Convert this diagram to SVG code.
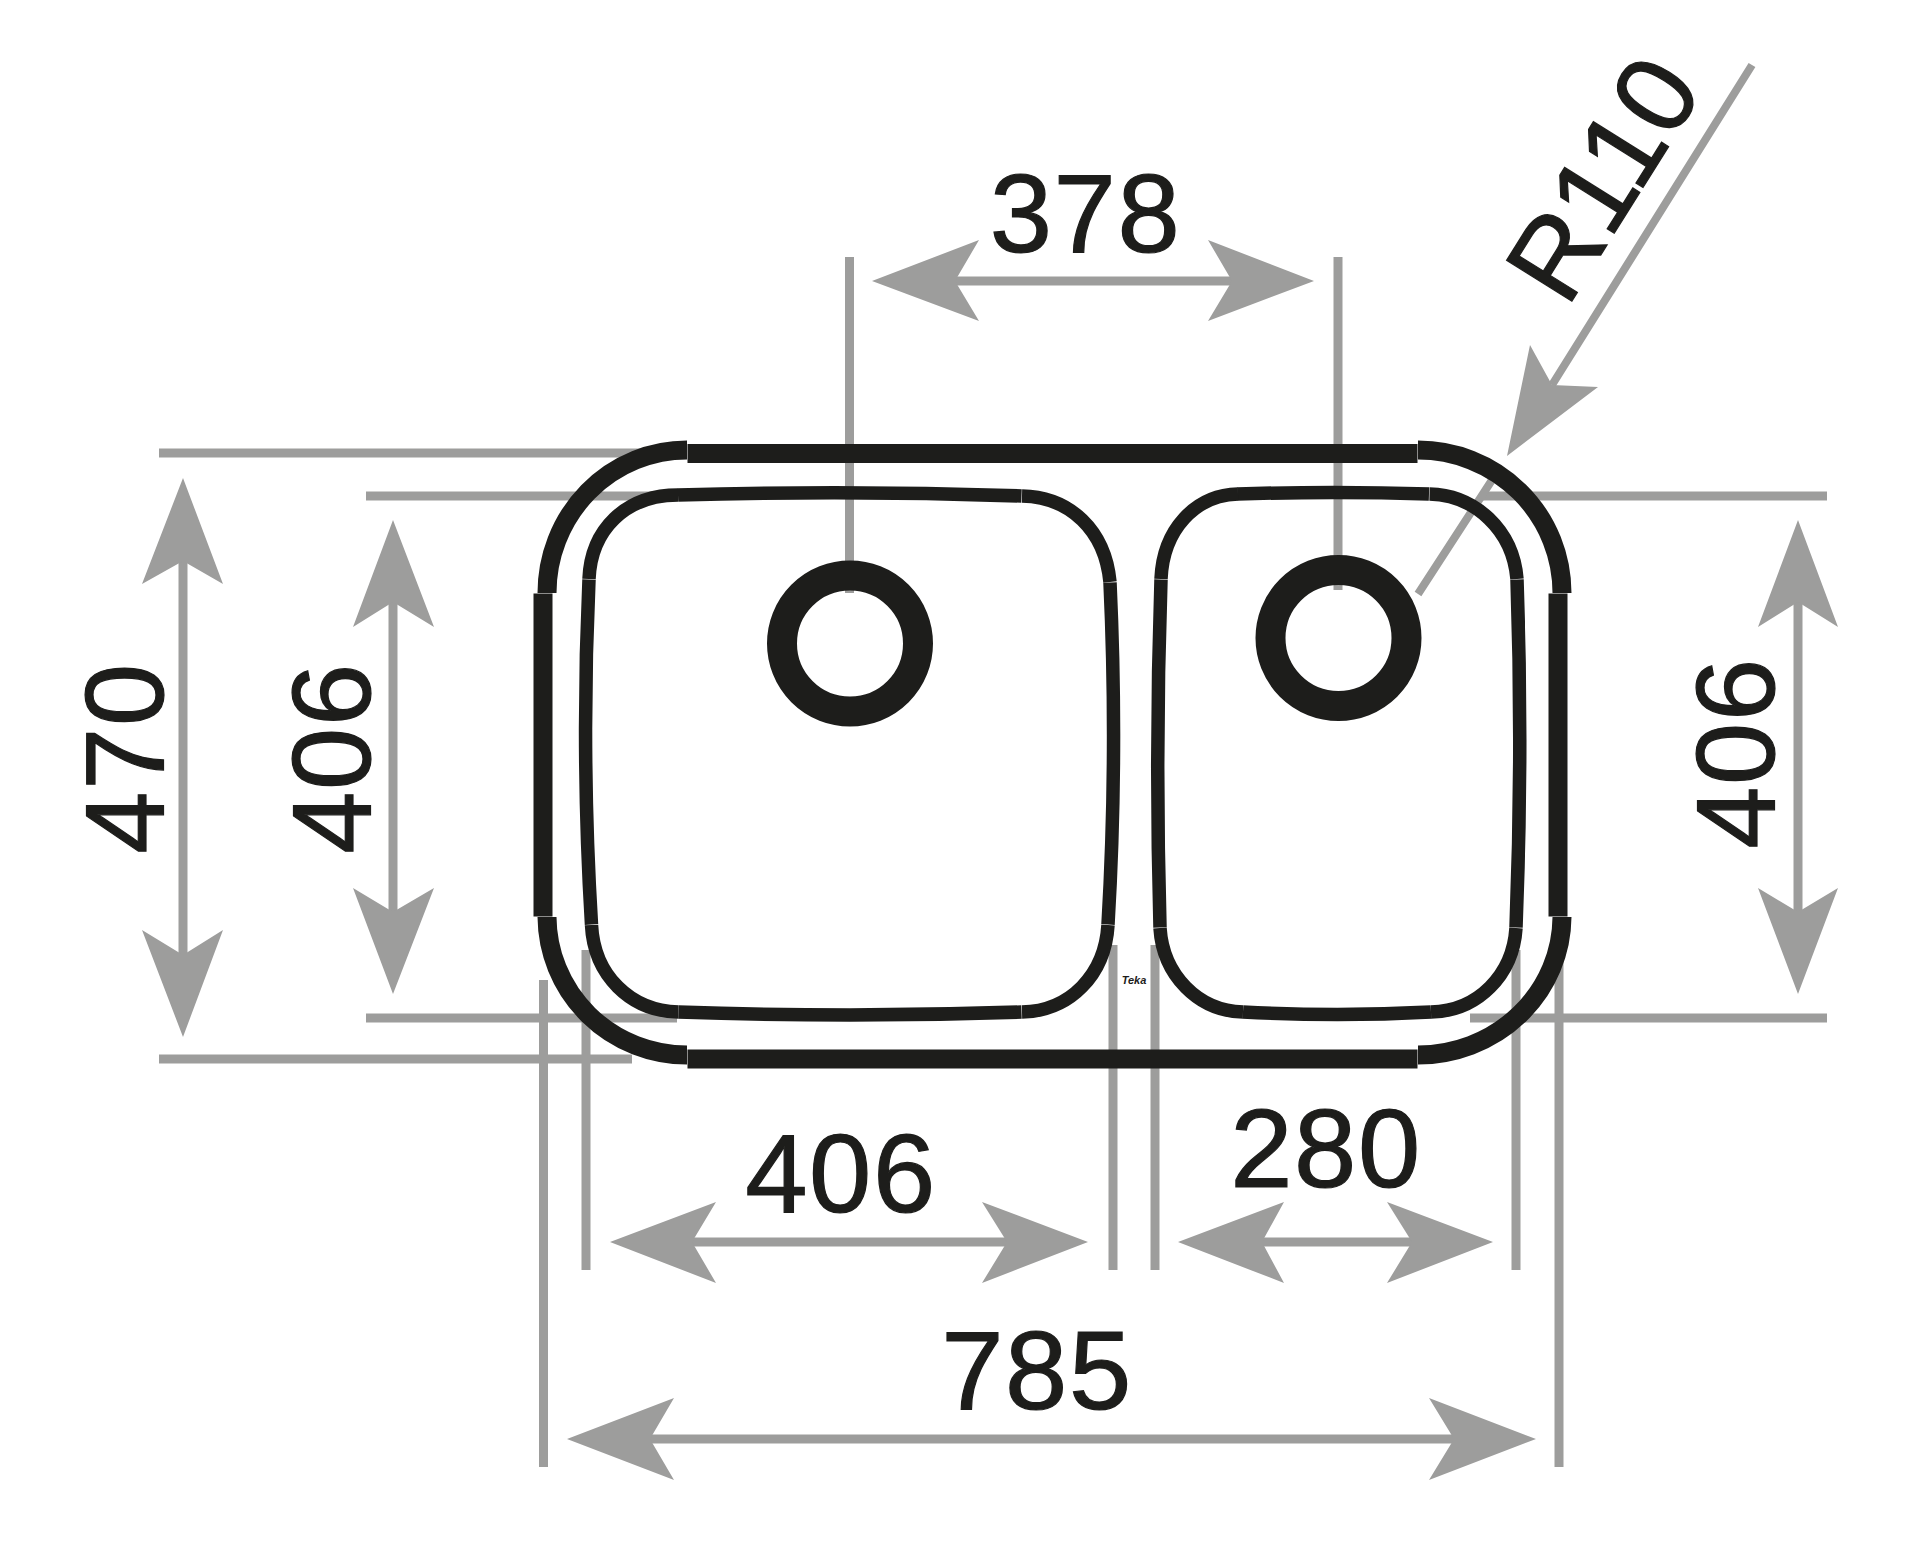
<svg xmlns="http://www.w3.org/2000/svg" width="1920" height="1552" viewBox="0 0 1920 1552">
<style>
.g{stroke:#9d9d9c;stroke-width:9;fill:none}
.t{stroke:#9d9d9c;stroke-width:8;fill:none}
.a{fill:#9d9d9c;stroke:none}
.o{stroke:#1d1d1b;stroke-width:19;fill:none}
.i{stroke:#1d1d1b;stroke-width:13.5;fill:none}
.r{stroke:#1d1d1b;stroke-width:30;fill:none}
.l{font-family:"Liberation Sans",Arial,Helvetica,sans-serif;font-size:112px;font-weight:400;fill:#1d1d1b;stroke:#1d1d1b;stroke-width:1.2px;letter-spacing:1.5px;text-anchor:middle}
.s{font-family:"Liberation Sans",Arial,Helvetica,sans-serif;font-size:11px;font-style:italic;font-weight:700;fill:#1d1d1b;text-anchor:middle}
</style>
<rect width="1920" height="1552" fill="#fff"/>
<g id="connectors">
<path class="g" d="M849.5 257V593M1338 257V590M159 453H640M366 496H677M159 1059H632M366 1018H677M1480 496H1827M1470 1018H1827M543.5 980V1467M586 950V1270M1113 945V1270M1155 945V1270M1516 950V1270M1559 950V1467"/>
<path class="t" d="M1752 65L1552 385M1418 594L1492 480"/>
<path class="g" d="M955 281H1232M692 1242H1007M1262 1242H1412M650 1439H1454M183 561V955M393 602V912M1798 602V912"/>
<path class="a" d="M872 281L979 240L955 281L979 321ZM1314 281L1208 240L1232 281L1208 321Z"/>
<path class="a" d="M610 1242L716 1202L692 1242L716 1283ZM1088 1242L982 1202L1007 1242L982 1283Z"/>
<path class="a" d="M1178 1242L1284 1202L1262 1242L1284 1283ZM1493 1242L1387 1202L1412 1242L1387 1283Z"/>
<path class="a" d="M567 1439L674 1398L650 1439L674 1480ZM1536 1439L1429 1398L1454 1439L1429 1480Z"/>
<path class="a" d="M183 478L223 584L183 561L142 584ZM183 1037L223 930L183 955L142 930Z"/>
<path class="a" d="M393 520L434 627L393 602L353 627ZM393 994L434 888L393 912L353 888Z"/>
<path class="a" d="M1798 520L1838 627L1798 602L1758 627ZM1798 994L1838 888L1798 912L1758 888Z"/>
<path class="a" d="M1507 456L1530 345L1552 385L1598 387Z"/>
</g>
<g id="outer-bowl">
<path class="o" d="M687.5 453.5H1417.5M687.5 1059H1417.5M543 593.5V916.5M1558 593.5V916.5"/>
<path class="o" d="M547 593A140 143 0 0 1 687 450M1418 450A144 143 0 0 1 1562 593M547 917A140 139 0 0 0 687 1055M1418 1055A144 139 0 0 0 1562 917"/>
</g>
<g id="left-bowl">
<path class="i" d="M678 495Q850 490 1021.500 496M678.500 1012Q850 1018 1021.500 1012M589 579.500Q581 752 591.500 924.500M1110 582.500Q1118 755 1108 924.500"/>
<path class="i" d="M589 579C591 530 625 495 678 495M1022 496C1070 497 1105 530 1110 582M591.500 925C594 975 630 1011 678.500 1012M1022 1012C1070 1011 1105 975 1108 925"/>
</g>
<g id="right-bowl">
<path class="i" d="M1237.500 494Q1334 491 1429 494M1243 1012Q1338 1017 1431 1012M1161 579.500Q1155 752 1160 927.500M1517 579.500Q1523 752 1516 927.500"/>
<path class="i" d="M1161 579C1163 530 1195 495 1238 494M1429.500 494C1475 495 1513 530 1517 579M1160 928C1163 975 1198 1011 1243 1012M1431 1012C1478 1011 1513 975 1516 928"/>
</g>
<g id="left-drain"><circle class="r" cx="850" cy="643.5" r="68"/></g>
<g id="right-drain"><circle class="r" cx="1338.5" cy="638" r="68"/></g>
<g id="labels">
<text class="l" x="1085.5" y="252">378</text>
<text class="l" x="841" y="1212">406</text>
<text class="l" x="1326" y="1187">280</text>
<text class="l" x="1037" y="1409">785</text>
<text class="l" transform="translate(163 758) rotate(-90)">470</text>
<text class="l" transform="translate(370 758) rotate(-90)">406</text>
<text class="l" transform="translate(1774 753) rotate(-90)">406</text>
<text class="l" transform="translate(1567 309) rotate(-58)" style="text-anchor:start;letter-spacing:0">R110</text>
<text class="s" x="1134" y="984">Teka</text>
</g>
</svg>
